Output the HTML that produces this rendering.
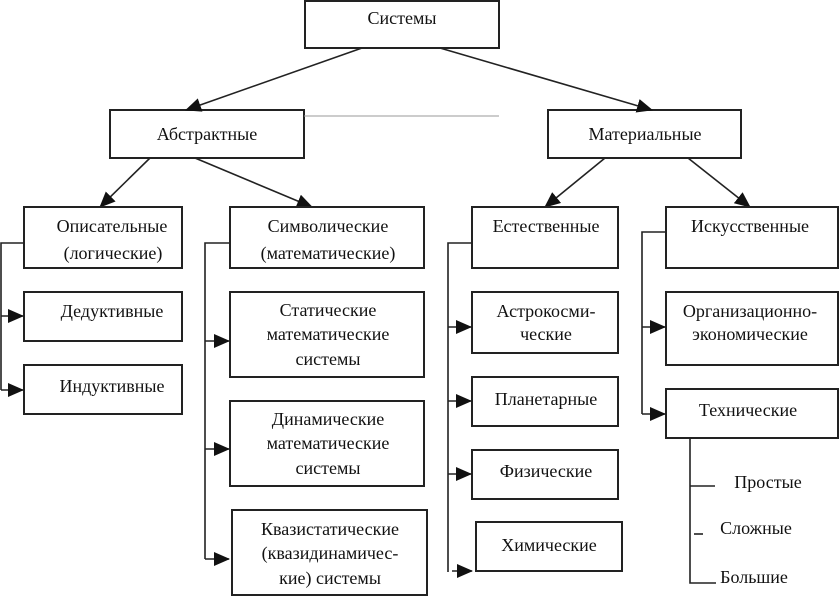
<!DOCTYPE html>
<html><head><meta charset="utf-8"><style>
html,body{margin:0;padding:0;background:#fff;}
svg{display:block;}
text{font-family:"Liberation Serif","Noto Serif CJK SC",serif;font-size:18px;fill:#111;text-anchor:middle;}
.b{fill:#fff;stroke:#222;stroke-width:2;}
.l{stroke:#222;stroke-width:1.6;fill:none;}
</style></head><body>
<svg width="839" height="597" viewBox="0 0 839 597">
<defs>
<marker id="h" markerWidth="16" markerHeight="14" refX="15" refY="7" orient="auto" markerUnits="userSpaceOnUse"><path d="M0,0 L16,7 L0,14 z" fill="#111"/></marker></defs>

<rect class="b" x="305" y="1" width="194" height="47"/><text x="402" y="24">Системы</text>
<rect class="b" x="110" y="110" width="194" height="48"/><text x="207" y="140">Абстрактные</text>
<rect class="b" x="548" y="110" width="193" height="48"/><text x="645" y="140">Материальные</text>
<line x1="304" y1="116" x2="499" y2="116" stroke="#999" stroke-width="1"/>

<line class="l" x1="362" y1="48" x2="186" y2="110" marker-end="url(#h)"/>
<line class="l" x1="440" y1="48" x2="652" y2="110" marker-end="url(#h)"/>
<line class="l" x1="150" y1="158" x2="100" y2="207" marker-end="url(#h)"/>
<line class="l" x1="195" y1="158" x2="312" y2="207" marker-end="url(#h)"/>
<line class="l" x1="605" y1="158" x2="545" y2="207" marker-end="url(#h)"/>
<line class="l" x1="688" y1="158" x2="750" y2="207" marker-end="url(#h)"/>

<rect class="b" x="24" y="207" width="158" height="61"/><text x="112" y="232">Описательные</text><text x="113" y="259">(логические)</text>
<rect class="b" x="24" y="292" width="158" height="49"/><text x="112" y="317">Дедуктивные</text>
<rect class="b" x="24" y="365" width="158" height="49"/><text x="112" y="392">Индуктивные</text>
<polyline class="l" points="24,243 1,243 1,390"/>
<line class="l" x1="1" y1="316" x2="23" y2="316" marker-end="url(#h)"/>
<line class="l" x1="1" y1="390" x2="23" y2="390" marker-end="url(#h)"/>

<rect class="b" x="230" y="207" width="194" height="61"/><text x="328" y="232">Символические</text><text x="328" y="259">(математические)</text>
<rect class="b" x="230" y="292" width="194" height="85"/><text x="328" y="316">Статические</text><text x="328" y="340">математические</text><text x="328" y="365">системы</text>
<rect class="b" x="230" y="401" width="194" height="85"/><text x="328" y="425">Динамические</text><text x="328" y="449">математические</text><text x="328" y="474">системы</text>
<rect class="b" x="232" y="510" width="195" height="85" stroke-width="2.6"/><text x="330" y="535">Квазистатические</text><text x="330" y="559">(квазидинамичес-</text><text x="330" y="584">кие) системы</text>
<polyline class="l" points="230,243 205,243 205,559"/>
<line class="l" x1="205" y1="341" x2="229" y2="341" marker-end="url(#h)"/>
<line class="l" x1="205" y1="449" x2="229" y2="449" marker-end="url(#h)"/>
<line class="l" x1="205" y1="559" x2="229" y2="559" marker-end="url(#h)"/>

<rect class="b" x="472" y="207" width="146" height="61"/><text x="546" y="232">Естественные</text>
<rect class="b" x="472" y="292" width="146" height="61"/><text x="546" y="317">Астрокосми-</text><text x="546" y="340">ческие</text>
<rect class="b" x="472" y="377" width="146" height="49"/><text x="546" y="405">Планетарные</text>
<rect class="b" x="472" y="450" width="146" height="49"/><text x="546" y="477">Физические</text>
<rect class="b" x="476" y="522" width="146" height="49" stroke-width="2.6"/><text x="549" y="551">Химические</text>
<polyline class="l" points="472,243 448,243 448,572"/>
<line class="l" x1="448" y1="327" x2="471" y2="327" marker-end="url(#h)"/>
<line class="l" x1="448" y1="401" x2="471" y2="401" marker-end="url(#h)"/>
<line class="l" x1="448" y1="474" x2="471" y2="474" marker-end="url(#h)"/>
<line class="l" x1="452" y1="571" x2="472" y2="571" marker-end="url(#h)"/>

<rect class="b" x="666" y="207" width="172" height="61"/><text x="750" y="232">Искусственные</text>
<rect class="b" x="666" y="292" width="172" height="73"/><text x="750" y="317">Организационно-</text><text x="750" y="340">экономические</text>
<rect class="b" x="666" y="389" width="172" height="49"/><text x="748" y="416">Технические</text>
<polyline class="l" points="666,232 642,232 642,414"/>
<line class="l" x1="642" y1="327" x2="665" y2="327" marker-end="url(#h)"/>
<line class="l" x1="642" y1="414" x2="665" y2="414" marker-end="url(#h)"/>
<polyline class="l" points="690,438 690,583 716,583"/>
<line class="l" x1="690" y1="486" x2="715" y2="486"/>
<line class="l" x1="694" y1="534" x2="703" y2="534"/>
<text x="768" y="488">Простые</text>
<text x="756" y="534">Сложные</text>
<text x="754" y="583">Большие</text>
</svg>
</body></html>
